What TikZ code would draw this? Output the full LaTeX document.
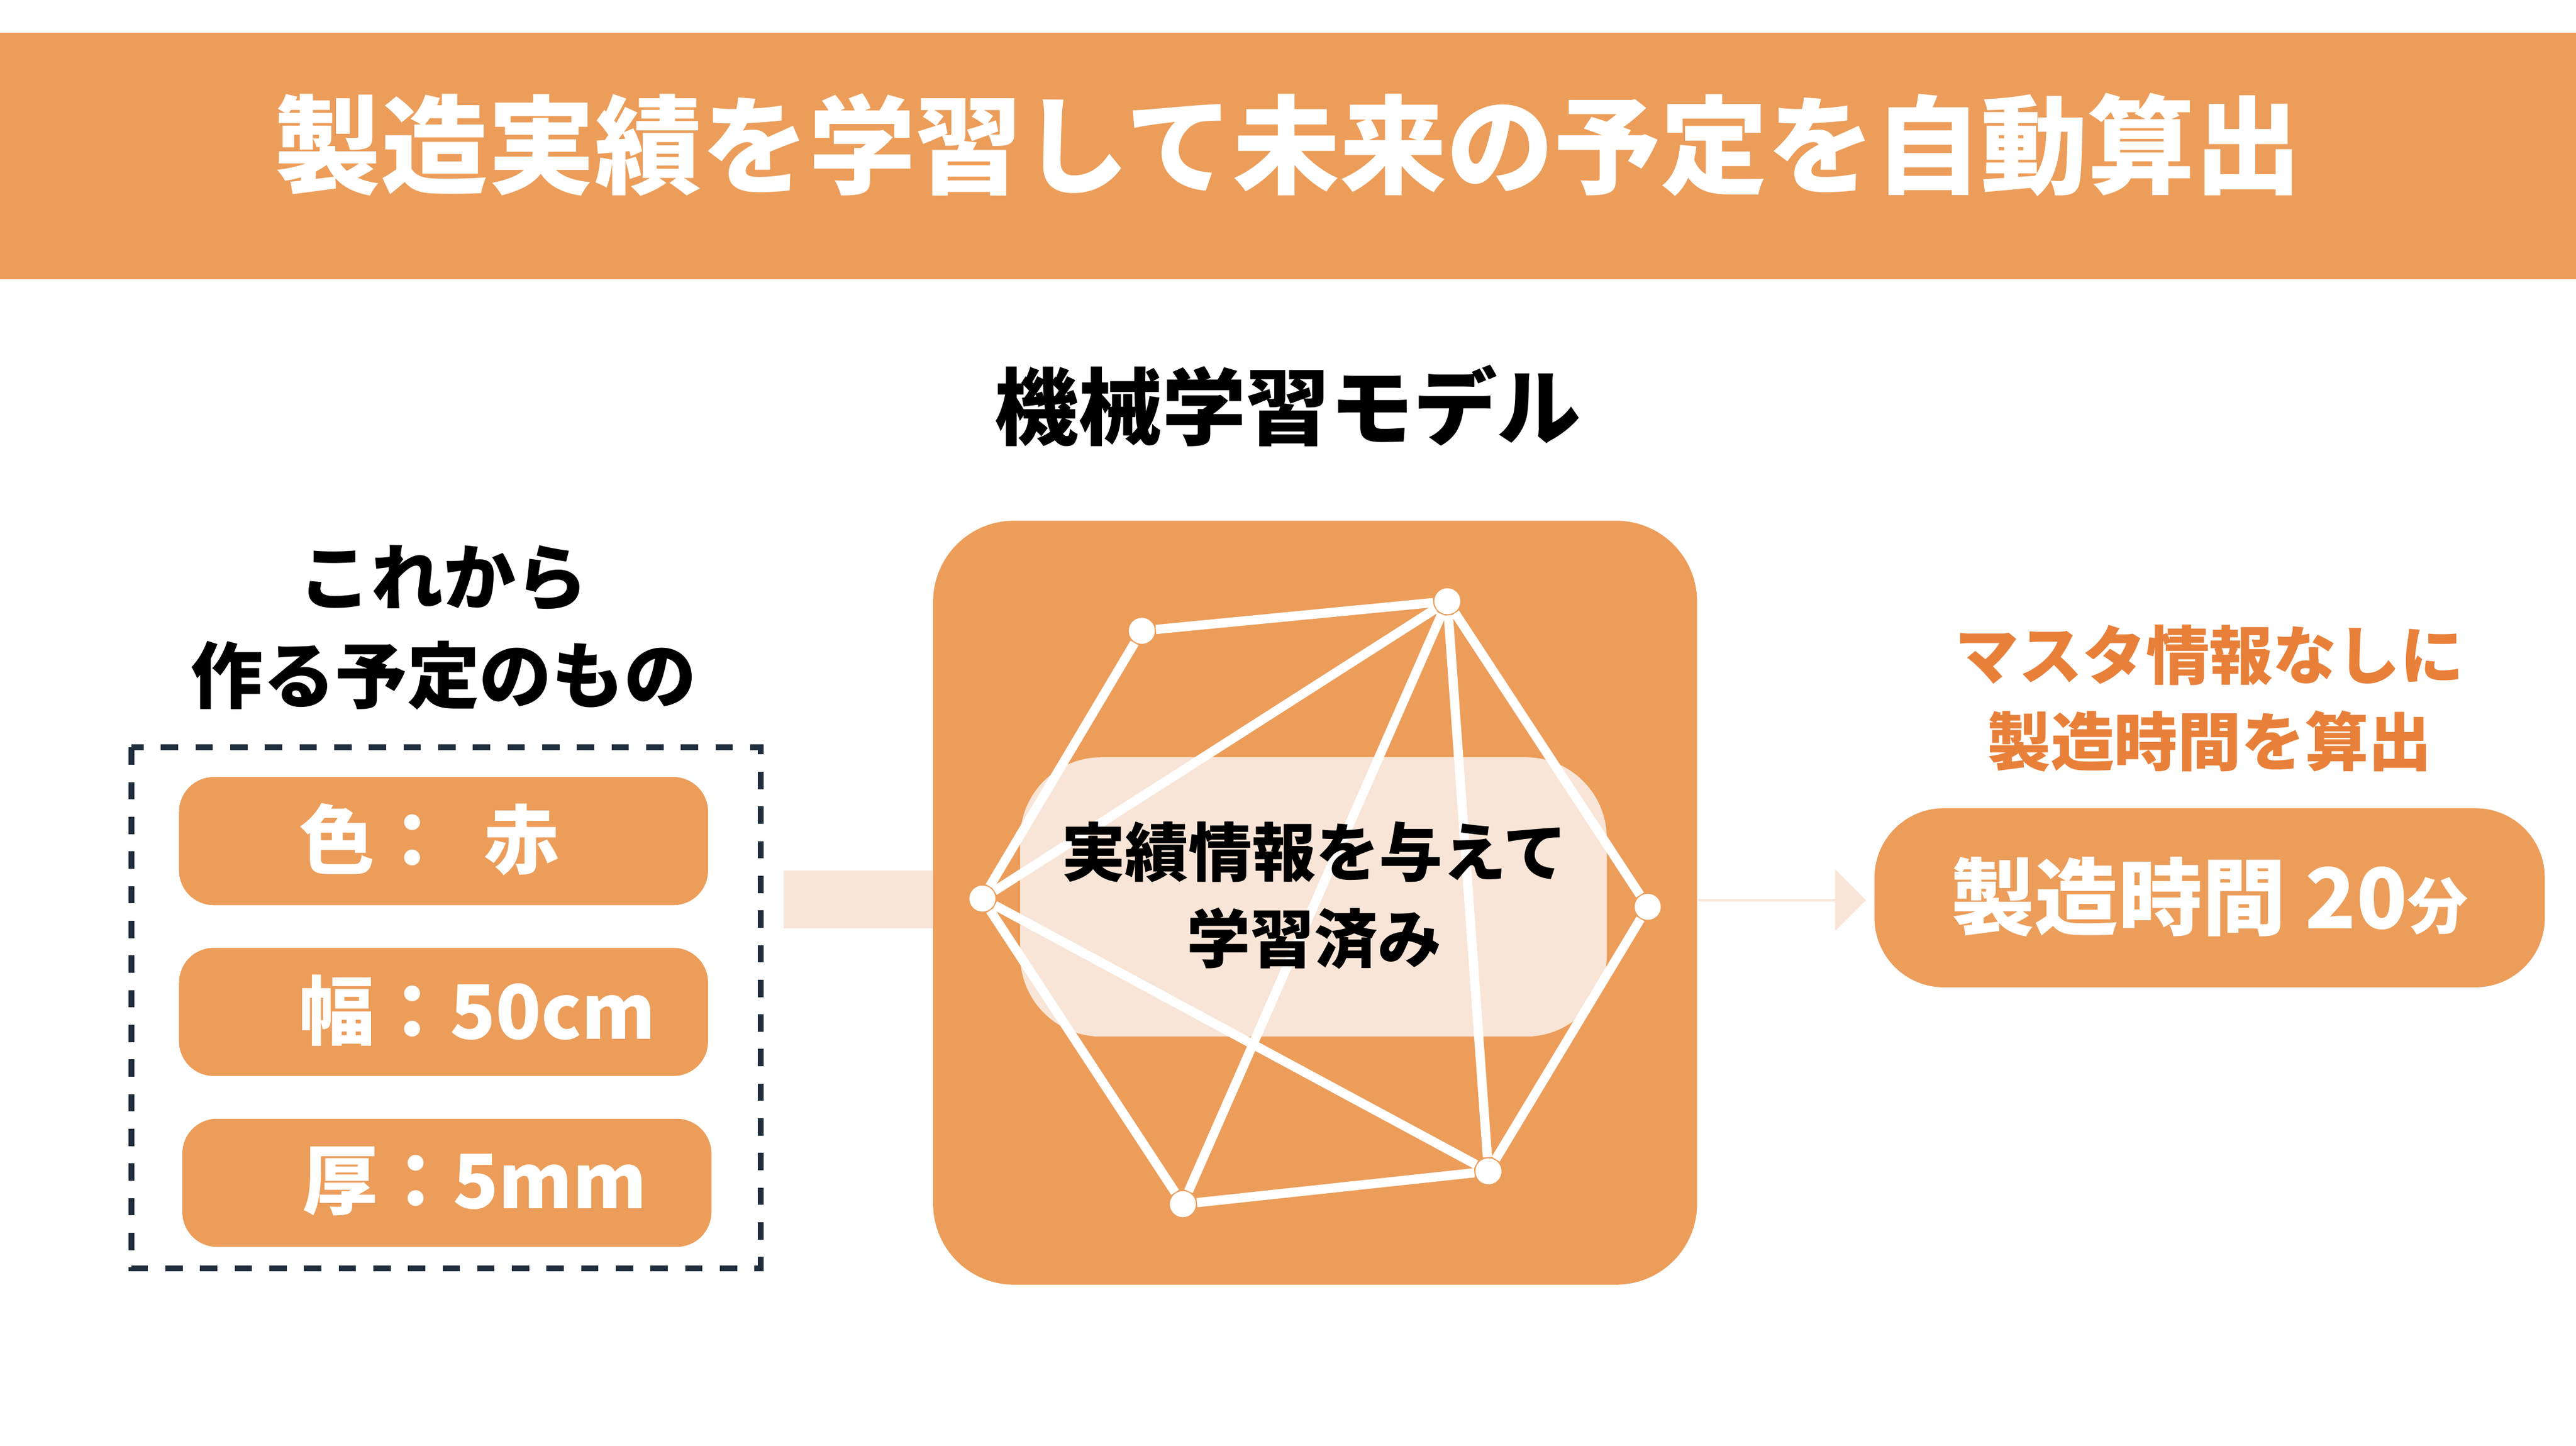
\documentclass[tikz,border=0pt]{standalone}
\usepackage{fontspec}
\setmainfont{Noto Sans CJK JP}
\usetikzlibrary{shapes.arrows}
\definecolor{orng}{HTML}{EC9D5A}
\definecolor{peach}{HTML}{F9E5D7}
\definecolor{txtor}{HTML}{E8803A}
\definecolor{navy}{HTML}{1F2D3D}
\tikzset{
  box/.style={fill=orng,rounded corners=6pt,draw=none},
  lbl/.style={white,font=\bfseries\fontsize{13}{15}\selectfont},
  dot/.style={circle,fill=white,inner sep=0pt,minimum size=4.5pt},
  edge/.style={white,line width=1.6pt},
}
\begin{document}
\begin{tikzpicture}[x=0.01cm,y=-0.01cm]
\useasboundingbox[fill=white] (0,0) rectangle (1568,880);
% banner
\fill[orng] (0,20) rectangle (1568,170);
\node[white,font=\bfseries\fontsize{18.5}{22}\selectfont] (title) at (784,88) {製造実績を学習して未来の予定を自動算出};
% arrows
\fill[peach] (477,530) rectangle (568,565);
\node[single arrow,fill=peach,minimum height=102\pgflinewidth,single arrow head extend=0.18cm,
  minimum width=0.35cm,inner sep=0pt,minimum height=1.02cm,anchor=west] (arr) at (1033,548) {};
% model
\node[font=\bfseries\fontsize{14.5}{17}\selectfont] (mtitle) at (784,247) {機械学習モデル};
\fill[orng,rounded corners=14pt] (568,317) rectangle (1033,782);
\fill[peach,rounded corners=14pt] (621,461) rectangle (978,631);
\node[dot] (a) at (695,384) {};
\node[dot] (b) at (881,366) {};
\node[dot] (c) at (598,547) {};
\node[dot] (d) at (1003,552) {};
\node[dot] (e) at (720,733) {};
\node[dot] (f) at (906,713) {};
\foreach \u/\v in {a/b,a/c,b/c,b/d,b/e,b/f,c/e,c/f,d/f,e/f}
  \draw[edge] (\u) -- (\v);
\node[align=center,font=\bfseries\fontsize{11}{15}\selectfont] (learn) at (800,545) {実績情報を与えて\\学習済み};
% input
\node[align=center,font=\bfseries\fontsize{12.5}{17}\selectfont] (itit) at (270,382) {これから\\作る予定のもの};
\draw[navy,dashed,line width=1pt] (80,455) rectangle (463,772);
\fill[box] (109,473) rectangle (431,551);
\fill[box] (109,577) rectangle (431,655);
\fill[box] (111,681) rectangle (433,759);
\node[lbl,anchor=west] (col) at (170,511) {色：\ \ 赤};
\node[lbl,anchor=west] (wid) at (170,615) {幅：50cm};
\node[lbl,anchor=west] (thk) at (172,719) {厚：5mm};
% output
\node[align=center,txtor,font=\bfseries\fontsize{11}{15}\selectfont] (otit) at (1345,425) {マスタ情報なしに\\製造時間を算出};
\fill[orng,rounded corners=12pt] (1141,492) rectangle (1549,601);
\node[white,font=\bfseries\fontsize{14.5}{17}\selectfont] (res) at (1345,546) {製造時間 20{\fontsize{10.5}{12}\selectfont 分}};
\end{tikzpicture}
\end{document}
